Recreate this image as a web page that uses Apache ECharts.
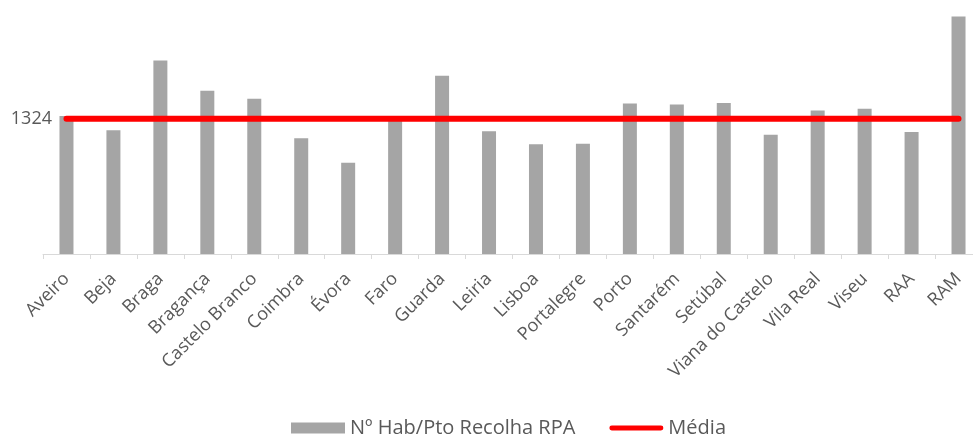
<!DOCTYPE html>
<html><head><meta charset="utf-8">
<script src="https://cdn.jsdelivr.net/npm/echarts@6/dist/echarts.min.js"></script>
<style>html,body{margin:0;padding:0;background:#fff;overflow:hidden}#c{width:990px;height:437px}</style>
</head><body><div id="c"></div>
<script>
const categories = ["Aveiro","Beja","Braga","Bragança","Castelo Branco","Coimbra","Évora","Faro","Guarda","Leiria","Lisboa","Portalegre","Porto","Santarém","Setúbal","Viana do Castelo","Vila Real","Viseu","RAA","RAM"];
const habPorPonto = [1353,1213,1896,1599,1520,1135,895,1307,1746,1203,1076,1079,1474,1464,1478,1167,1405,1422,1196,2327];
const media = 1324;
const yTicks = [1324];

const chart = echarts.init(document.getElementById('c'), null, {renderer:'canvas'});
chart.setOption({
  animation:false,
  textStyle:{fontFamily:'Open Sans'},
  grid:{left:43,width:939,top:9,bottom:183,containLabel:false},
  legend:{
    top:413,left:286,itemGap:34,itemWidth:54,itemHeight:11,
    textStyle:{fontSize:20,color:'#595959',fontFamily:'Open Sans'},
    data:[
      {name:'Nº Hab/Pto Recolha RPA',icon:'rect'},
      {name:'Média',icon:'path://M2.5,0 L53.5,0 A2.5,2.5 0 0 1 53.5,5 L2.5,5 A2.5,2.5 0 0 1 2.5,0 Z',itemStyle:{color:'#ff0000'}}
    ]
  },
  xAxis:{
    type:'category',data:categories,boundaryGap:true,
    axisLine:{lineStyle:{color:'#d9d9d9',width:1}},
    axisTick:{show:true,length:5,lineStyle:{color:'#d9d9d9'}},
    axisLabel:{rotate:45,interval:0,fontSize:18,color:'#595959',margin:22,fontFamily:'Open Sans'}
  },
  yAxis:{
    type:'value',min:0,max:2400,
    splitLine:{show:false},axisLine:{show:false},axisTick:{show:false},
    axisLabel:{customValues:yTicks,fontSize:18,color:'#595959',margin:-9,fontFamily:'Open Sans',
      formatter:v=>String(v)}
  },
  series:[
    {name:'Nº Hab/Pto Recolha RPA',type:'bar',data:habPorPonto,barWidth:14,
     itemStyle:{color:'#a5a5a5'}},
    {name:'Média',type:'line',data:categories.map(()=>media),symbol:'none',
     lineStyle:{color:'#ff0000',width:6,cap:'round'},itemStyle:{color:'#ff0000'},z:5}
  ]
});
</script></body></html>
